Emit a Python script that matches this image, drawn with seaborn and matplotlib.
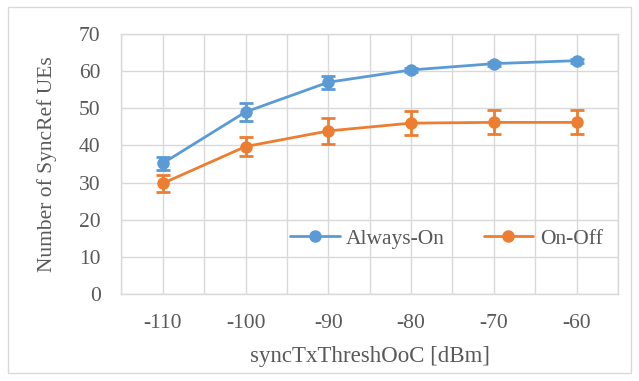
import numpy as np
import pandas as pd
import matplotlib
matplotlib.use("Agg")
import matplotlib.pyplot as plt
import seaborn as sns
from matplotlib.patches import Rectangle

# Données
thresholds = [-110, -100, -90, -80, -70, -60]
always_on = [35.2, 49.0, 57.0, 60.3, 62.0, 62.8]
always_on_err = [1.7, 2.4, 1.7, 0.6, 0.5, 0.5]
on_off = [29.8, 39.7, 43.9, 46.0, 46.2, 46.2]
on_off_err = [2.3, 2.6, 3.5, 3.2, 3.2, 3.2]

df = pd.DataFrame({
    "thresh": thresholds * 2,
    "value": always_on + on_off,
    "err": always_on_err + on_off_err,
    "mode": ["Always-On"] * 6 + ["On-Off"] * 6,
})

sns.set_theme(style="white")
plt.rcParams["font.family"] = ["Liberation Serif", "DejaVu Serif"]
plt.rcParams["axes.unicode_minus"] = False

palette = {"Always-On": "#5B9BD5", "On-Off": "#ED7D31"}
text_col = "#595959"
grid_col = "#D9D9D9"

fig, ax = plt.subplots(figsize=(6.39, 3.81), dpi=100)
fig.subplots_adjust(left=0.19, right=0.967, top=0.911, bottom=0.228)

sns.lineplot(data=df, x="thresh", y="value", hue="mode", palette=palette,
             marker="o", markersize=9, markeredgewidth=0, linewidth=2,
             ax=ax, zorder=3)

# Barres d'erreur
for mode, vals, errs in [("Always-On", always_on, always_on_err),
                         ("On-Off", on_off, on_off_err)]:
    ax.errorbar(thresholds, vals, yerr=errs, fmt="none", ecolor=palette[mode],
                elinewidth=2, capsize=5, capthick=2, zorder=3)

ax.set_xlim(-115, -55)
ax.set_ylim(0, 70)
ax.set_xticks(thresholds)
ax.set_xticks(np.arange(-115, -54, 10), minor=True)
ax.set_yticks(range(0, 71, 10))
ax.grid(True, which="both", axis="x", color=grid_col, linewidth=1)
ax.grid(True, which="major", axis="y", color=grid_col, linewidth=1)
ax.tick_params(which="both", length=0, labelsize=15.5, labelcolor=text_col)
ax.tick_params(axis="x", pad=14)
ax.tick_params(axis="y", pad=15)
for s in ax.spines.values():
    s.set_color(grid_col)
    s.set_linewidth(1)

ax.set_xlabel("syncTxThreshOoC [dBm]", fontsize=16.5, color=text_col, labelpad=10)
ax.set_ylabel("Number of SyncRef UEs", fontsize=15.5, color=text_col, labelpad=16)

handles, labels = ax.get_legend_handles_labels()
ax.legend(handles, labels, loc="lower right", bbox_to_anchor=(1.008, 0.1),
          ncol=2, frameon=False, fontsize=15.5, labelcolor=text_col,
          handlelength=2.3, columnspacing=1.8, handletextpad=0.3)

# Bordure de la zone de graphique
fig.patches.append(Rectangle((0.012, 0.022), 0.976, 0.96, transform=fig.transFigure,
                             fill=False, edgecolor=grid_col, linewidth=1))

plt.savefig("out.png", dpi=100)
plt.close()
